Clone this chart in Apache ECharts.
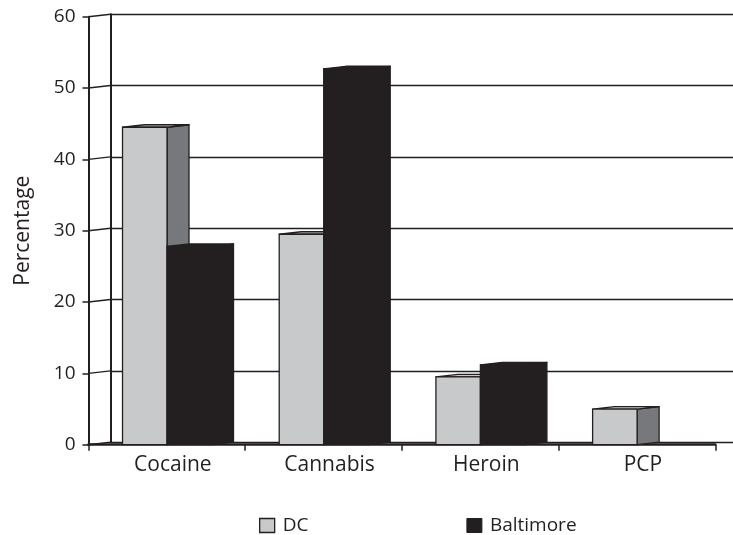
<!DOCTYPE html>
<html>
<head>
<meta charset="utf-8">
<script src="https://cdn.jsdelivr.net/npm/echarts@6/dist/echarts.min.js"></script>
<style>
html,body{margin:0;padding:0;background:#fff;}
#chart{width:733px;height:535px;}
</style>
</head>
<body>
<div id="chart"></div>
<script>
var categories = ['Cocaine', 'Cannabis', 'Heroin', 'PCP'];
var dcValues = [44.5, 29.5, 9.5, 5.0];
var baltimoreValues = [27.8, 52.7, 11.2, 0];
var yTicks = [0, 10, 20, 30, 40, 50, 60];

var INK = '#231f20';
var DEPTH_X = 22, DEPTH_Y = -2.5;
var FONT = 'Open Sans';

function barRenderer(seriesIdx, colors) {
  return function (params, api) {
    var v = api.value(1);
    if (!v) return null;
    var band = api.size([1, 0])[0];
    var base = api.coord([api.value(0), 0]);
    var topY = api.coord([api.value(0), v])[1];
    var y0 = base[1];
    var w = band * 0.284;
    var left = base[0] - band / 2 + band * 0.217 + seriesIdx * w;
    var right = left + w;
    var st = { stroke: INK, lineWidth: 1.3, lineJoin: 'round' };
    return {
      type: 'group',
      children: [
        { type: 'polygon', shape: { points: [[right, topY], [right + DEPTH_X, topY + DEPTH_Y], [right + DEPTH_X, y0 + DEPTH_Y], [right, y0]] },
          style: Object.assign({ fill: colors.side }, st) },
        { type: 'polygon', shape: { points: [[left, topY], [left + DEPTH_X, topY + DEPTH_Y], [right + DEPTH_X, topY + DEPTH_Y], [right, topY]] },
          style: Object.assign({ fill: colors.top }, st) },
        { type: 'rect', shape: { x: left, y: topY, width: w, height: y0 - topY },
          style: Object.assign({ fill: colors.front }, st) }
      ]
    };
  };
}

var chart = echarts.init(document.getElementById('chart'), null, { renderer: 'canvas' });

chart.setOption({
  animation: false,
  backgroundColor: '#fff',
  textStyle: { fontFamily: FONT, color: INK },
  legend: {
    left: 254, top: 511,
    icon: 'rect', itemWidth: 15, itemHeight: 14, itemGap: 158,
    textStyle: { fontFamily: FONT, fontSize: 19, color: INK, lineHeight: 14, padding: [0, 0, 0, 3] },
    data: [
      { name: 'DC', itemStyle: { color: '#c8c9cb', borderColor: INK, borderWidth: 1.3 } },
      { name: 'Baltimore', itemStyle: { color: INK, borderColor: INK, borderWidth: 1 } }
    ]
  },
  grid: [
    { left: 88.5, right: 17.7, top: 16.7, bottom: 90.3 },
    { left: 88.5 + DEPTH_X, right: -6, top: 16.7 + DEPTH_Y, bottom: 90.3 - DEPTH_Y }
  ],
  xAxis: [
    {
      type: 'category', gridIndex: 0, data: categories, boundaryGap: true,
      axisLine: { show: true, lineStyle: { color: INK, width: 2.5 } },
      axisTick: { show: true, length: 6, lineStyle: { color: INK, width: 1.5 } },
      axisLabel: { fontFamily: FONT, fontSize: 21, color: INK, margin: 10, padding: [0, 0, 0, 12] },
      splitLine: { show: false }
    },
    { type: 'category', gridIndex: 1, data: categories, show: false }
  ],
  yAxis: [
    {
      type: 'value', gridIndex: 0, min: 0, max: 60, interval: 10,
      name: 'Percentage', nameLocation: 'middle', nameGap: 55, nameRotate: 90,
      nameTextStyle: { fontFamily: FONT, fontSize: 21, color: INK },
      axisLine: { show: true, lineStyle: { color: INK, width: 2 } },
      axisTick: { show: true, length: 6, lineStyle: { color: INK, width: 1.5 } },
      axisLabel: { fontFamily: FONT, fontSize: 19, color: INK, margin: 13 },
      splitLine: { show: false }
    },
    {
      type: 'value', gridIndex: 1, min: 0, max: 60, interval: 10,
      axisLine: { show: true, lineStyle: { color: INK, width: 2 } },
      axisTick: { show: false }, axisLabel: { show: false },
      splitLine: { show: true, lineStyle: { color: INK, width: 1.4 } }
    }
  ],
  series: [
    {
      type: 'custom', name: 'connectors', xAxisIndex: 0, yAxisIndex: 0, silent: true,
      legendHoverLink: false, z: 1,
      data: yTicks.map(function (t) { return [0, t]; }),
      renderItem: function (params, api) {
        var y = api.coord([0, api.value(1)])[1];
        var x = params.coordSys.x;
        return { type: 'line', shape: { x1: x, y1: y, x2: x + DEPTH_X, y2: y + DEPTH_Y },
          style: { stroke: INK, lineWidth: 1.4 } };
      }
    },
    {
      type: 'custom', name: 'DC', xAxisIndex: 0, yAxisIndex: 0, z: 3,
      itemStyle: { color: '#c8c9cb' },
      data: dcValues.map(function (v, i) { return [i, v]; }),
      renderItem: barRenderer(0, { front: '#c8c9cb', top: '#c8c9cb', side: '#77787b' })
    },
    {
      type: 'custom', name: 'Baltimore', xAxisIndex: 0, yAxisIndex: 0, z: 4,
      itemStyle: { color: INK },
      data: baltimoreValues.map(function (v, i) { return [i, v]; }),
      renderItem: barRenderer(1, { front: INK, top: INK, side: INK })
    }
  ]
});
</script>
</body>
</html>
